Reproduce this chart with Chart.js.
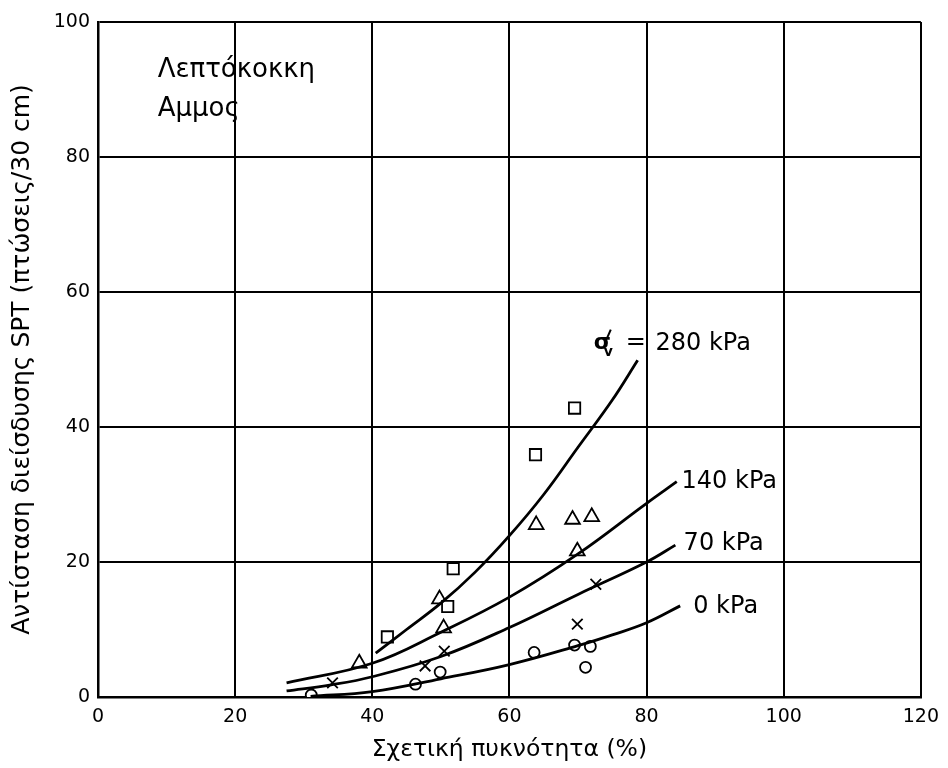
<!DOCTYPE html>
<html>
<head>
<meta charset="utf-8">
<script src="https://cdn.jsdelivr.net/npm/chart.js@4.4.0/dist/chart.umd.min.js"></script>
<style>
  body { margin: 0; background: #fff; }
  canvas { display: block; }
</style>
</head>
<body>
<canvas id="spt-chart" width="948" height="768"></canvas>
<script>
// Measured points (x = relative density %, y = SPT blows)
const pts280 = [[42.2, 8.9], [51.0, 13.4], [51.8, 19.0], [63.8, 35.9], [69.5, 42.8]];
const pts140 = [[38.1, 5.0], [49.8, 14.5], [50.4, 10.2], [63.9, 25.5], [69.2, 26.3], [69.9, 21.6], [72.0, 26.7]];
const pts70 = [[34.2, 2.1], [47.7, 4.6], [50.5, 6.8], [69.9, 10.8], [72.6, 16.7]];
const pts0 = [[31.1, 0.3], [46.3, 1.9], [49.9, 3.7], [63.6, 6.6], [69.5, 7.7], [71.1, 4.4], [71.8, 7.5]];

// Fitted curves
const curve280 = [[40.5, 6.5], [45, 10.0], [50, 13.9], [55, 18.5], [60, 23.9], [65, 30.0], [70, 37.0], [75, 44.0], [78.7, 49.9]];
const curve140 = [[27.5, 2.1], [40, 5.0], [50, 9.6], [60, 14.8], [70, 21.2], [80, 28.7], [84.4, 31.9]];
const curve70 = [[27.5, 0.9], [34, 1.8], [40, 3.0], [50, 6.0], [60, 10.3], [70, 15.2], [80, 20.0], [84.2, 22.5]];
const curve0 = [[31, 0.1], [40, 0.8], [50, 2.7], [60, 4.8], [70, 7.6], [75, 9.2], [80, 11.0], [84.9, 13.5]];

const xTitle = 'Σχετική πυκνότητα (%)';
const yTitle = 'Αντίσταση διείσδυσης SPT (πτώσεις/30 cm)';
const FONT = 'DejaVu Sans';

function toXY(list) {
    return list.map(p => ({ x: p[0], y: p[1] }));
}

function curveSet(list) {
    return {
        type: 'line',
        data: toXY(list),
        borderColor: '#000',
        borderWidth: 2.8,
        pointRadius: 0,
        fill: false,
        tension: 0.4
    };
}

function markerSet(list, style, radius) {
    return {
        type: 'scatter',
        data: toXY(list),
        pointStyle: style,
        pointRadius: radius,
        pointHoverRadius: radius,
        pointBackgroundColor: '#fff',
        pointBorderColor: '#000',
        pointBorderWidth: 1.8
    };
}

// Text notes drawn on the plot (positions in data units)
const notes = [
    { text: 'Λεπτόκοκκη', x: 8.7, y: 91.8, size: 26 },
    { text: 'Αμμος', x: 8.7, y: 86.1, size: 26 },
    { text: '280 kPa', x: 81.3, y: 51.4, size: 24 },
    { text: '140 kPa', x: 85.1, y: 31.0, size: 24 },
    { text: '70 kPa', x: 85.4, y: 21.8, size: 24 },
    { text: '0 kPa', x: 86.8, y: 12.5, size: 24 }
];

const notesPlugin = {
    id: 'notes',
    afterDatasetsDraw(chart) {
        const ctx = chart.ctx;
        const xs = chart.scales.x, ys = chart.scales.y;
        ctx.save();
        ctx.fillStyle = '#000';
        ctx.strokeStyle = '#000';
        ctx.textBaseline = 'alphabetic';
        ctx.textAlign = 'left';
        notes.forEach(n => {
            ctx.font = n.size + 'px "' + FONT + '"';
            ctx.fillText(n.text, xs.getPixelForValue(n.x), ys.getPixelForValue(n.y));
        });
        // sigma'_v =
        const sx = xs.getPixelForValue(72.3), sy = ys.getPixelForValue(51.6);
        ctx.font = 'bold 22px "' + FONT + '"';
        ctx.fillText('σ', sx, sy);
        ctx.font = 'bold 14px "' + FONT + '"';
        ctx.fillText('v', sx + 10, sy + 7);
        ctx.lineWidth = 2;
        ctx.beginPath();
        ctx.moveTo(sx + 17, sy - 19);
        ctx.lineTo(sx + 13, sy - 10);
        ctx.stroke();
        ctx.font = '24px "' + FONT + '"';
        ctx.fillText('=', sx + 32, sy);
        ctx.restore();
    }
};

const ctx = document.getElementById('spt-chart').getContext('2d');
new Chart(ctx, {
    data: {
        datasets: [
            curveSet(curve280),
            curveSet(curve140),
            curveSet(curve70),
            curveSet(curve0),
            markerSet(pts280, 'rect', 8),
            markerSet(pts140, 'triangle', 8.5),
            markerSet(pts70, 'crossRot', 7.5),
            markerSet(pts0, 'circle', 5.5)
        ]
    },
    options: {
        responsive: false,
        animation: false,
        devicePixelRatio: 1,
        layout: { padding: { top: 22, right: 27, left: 0, bottom: 0 } },
        plugins: {
            legend: { display: false },
            tooltip: { enabled: false }
        },
        scales: {
            x: {
                type: 'linear',
                min: 0,
                max: 120,
                ticks: {
                    stepSize: 20,
                    color: '#000',
                    padding: 9,
                    font: { family: FONT, size: 19 }
                },
                grid: { color: '#000', lineWidth: 2, drawTicks: false },
                border: { color: '#000', width: 2.5 },
                title: {
                    display: true,
                    text: xTitle,
                    color: '#000',
                    font: { family: FONT, size: 23.5 },
                    padding: { top: 0, bottom: 4 }
                },
                afterFit(scale) { scale.height = 71; }
            },
            y: {
                type: 'linear',
                min: 0,
                max: 100,
                ticks: {
                    stepSize: 20,
                    color: '#000',
                    padding: 8,
                    font: { family: FONT, size: 19 }
                },
                grid: { color: '#000', lineWidth: 2, drawTicks: false },
                border: { color: '#000', width: 2.5 },
                title: {
                    display: true,
                    text: yTitle,
                    color: '#000',
                    font: { family: FONT, size: 25 },
                    padding: { top: 7, bottom: 0 }
                },
                afterFit(scale) { scale.width = 98; }
            }
        }
    },
    plugins: [notesPlugin]
});
</script>
</body>
</html>
